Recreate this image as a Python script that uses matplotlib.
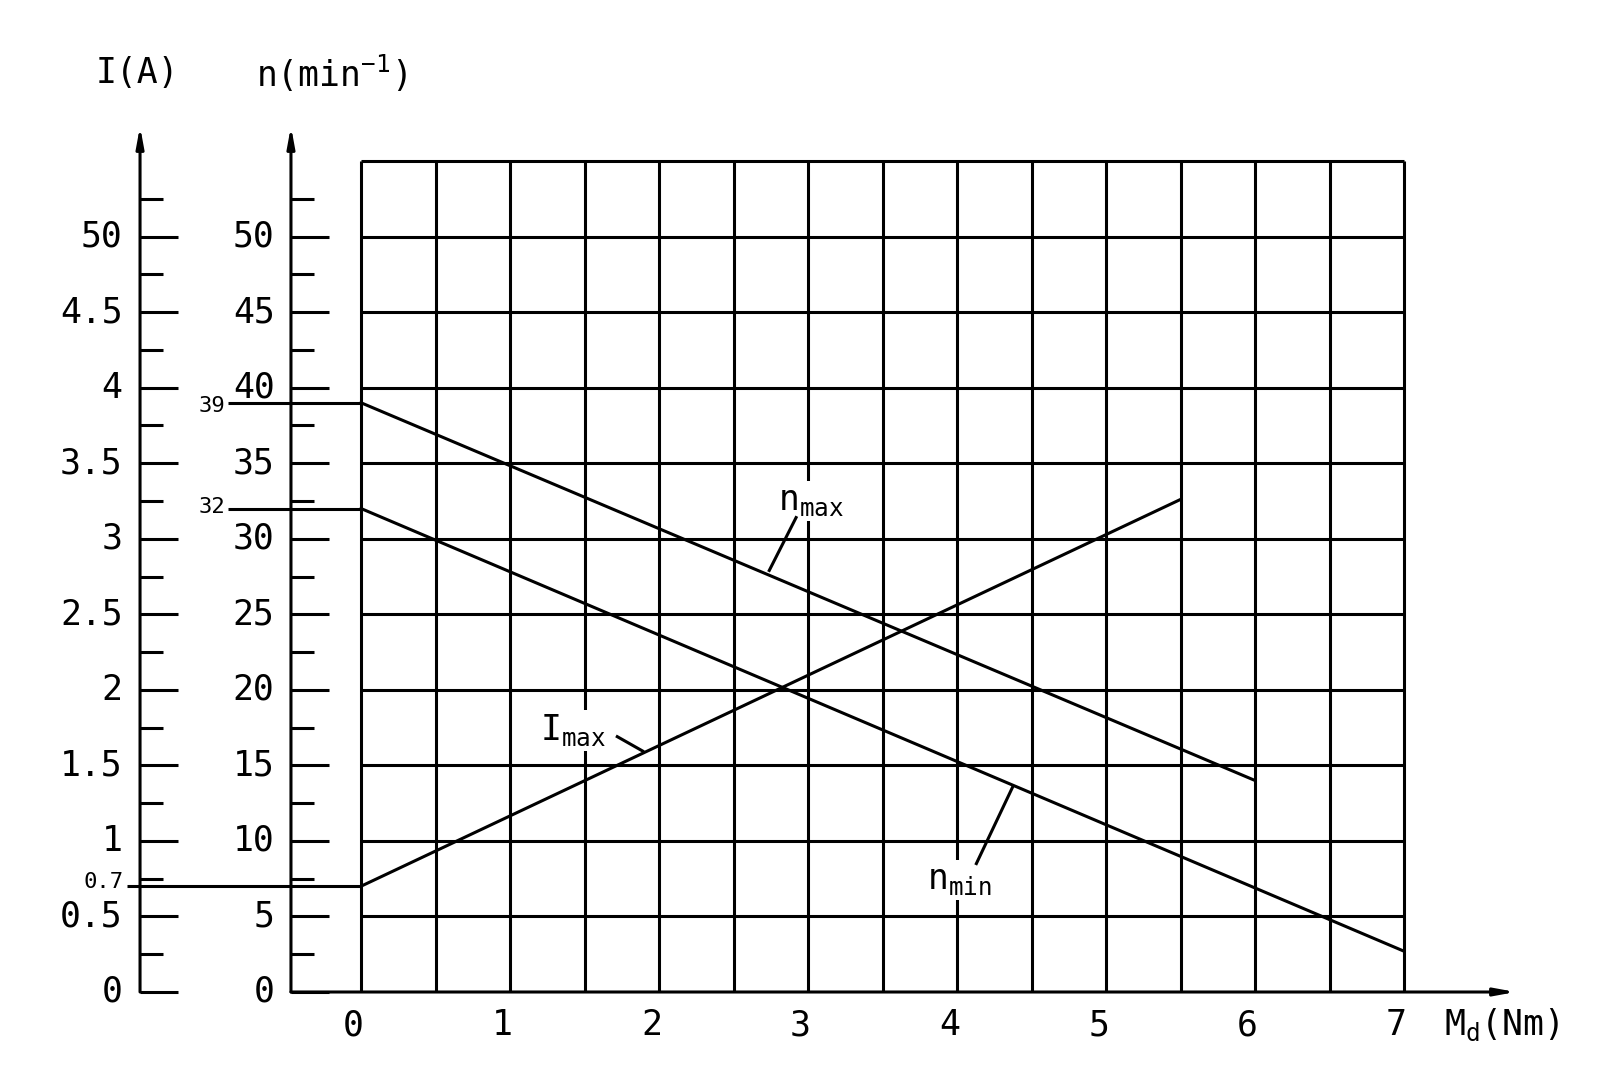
import numpy as np
import matplotlib.pyplot as plt

plt.rcParams['font.family'] = ['DejaVu Sans Mono']
plt.rcParams['mathtext.default'] = 'regular'

# torque axis (Nm) and speed / current scales
x_ticks = [0, 1, 2, 3, 4, 5, 6, 7]
grid_x = np.arange(0, 7.01, 0.5)
grid_y = np.arange(0, 55.1, 5)
n_ticks = [0, 5, 10, 15, 20, 25, 30, 35, 40, 45, 50]
n_labels = ["0", "5", "10", "15", "20", "25", "30", "35", "40", "45", "50"]
i_labels = ["0", "0.5", "1", "1.5", "2", "2.5", "3", "3.5", "4", "4.5", "50"]
minor_ticks = np.arange(2.5, 53, 5)

# curves
md_nmax = [0, 6]
n_max = [39, 14]
md_nmin = [0, 7]
n_min = [32, 2.7]
md_imax = [0, 5.5]
i_max = [0.7, 3.26]   # A, 0.5 A per 5 min^-1 division

W, H = 1607, 1070
fig = plt.figure(figsize=(W / 100, H / 100), dpi=100)
x0, x7 = 361, 1404
y0, y55 = 992, 161
ax = fig.add_axes([x0 / W, 1 - y0 / H, (x7 - x0) / W, (y0 - y55) / H])
ax.set_xlim(0, 7)
ax.set_ylim(0, 55)
ax.axis("off")

lw = 2.2
k = dict(color="black", lw=lw, clip_on=False)
fs = 25
arrow = dict(arrowstyle="-|>,head_length=1.2,head_width=0.22",
             color="black", lw=lw, shrinkA=0, shrinkB=0)

# grid
ax.vlines(grid_x, 0, 55, **k)
ax.hlines(grid_y[1:], 0, 7, **k)

# x axis with arrow
ax.annotate("", xy=(7.75, 0), xytext=(-0.47, 0), arrowprops=arrow,
            annotation_clip=False)
for v in x_ticks:
    ax.text(v - 0.05, -2.2, str(v), ha="center", va="center", fontsize=fs)
ax.text(7.27, -2.2, r"M$_{d}$(Nm)", ha="left", va="center", fontsize=fs)

# two vertical scales
for xa, labels, lab_x in [(-1.483, i_labels, -1.60), (-0.47, n_labels, -0.58)]:
    ax.annotate("", xy=(xa, 57.3), xytext=(xa, 0), arrowprops=arrow,
                annotation_clip=False)
    ax.hlines(n_ticks, xa, xa + 0.255, **k)
    ax.hlines(minor_ticks, xa, xa + 0.155, **k)
    for v, s in zip(n_ticks, labels):
        ax.text(lab_x, v, s, ha="right", va="center", fontsize=fs)

ax.text(-1.50, 60.8, "I(A)", ha="center", va="center", fontsize=fs)
ax.text(-0.2, 60.8, r"n(min$^{-1}$)", ha="center", va="center", fontsize=fs)

# reference lines for start values
ax.hlines([n_max[0], n_min[0]], -0.89, 0, **k)
ax.hlines(i_max[0] * 10, -1.57, 0, **k)
ax.text(-0.91, n_max[0] - 0.2, "39", ha="right", va="center", fontsize=16)
ax.text(-0.91, n_min[0] + 0.1, "32", ha="right", va="center", fontsize=16)
ax.text(-1.59, i_max[0] * 10 + 0.3, "0.7", ha="right", va="center", fontsize=16)

# curves
ax.plot(md_nmax, n_max, **k)
ax.plot(md_nmin, n_min, **k)
ax.plot(md_imax, np.array(i_max) * 10, **k)

# curve labels with leaders
box = dict(facecolor="white", edgecolor="none", pad=2)
ax.text(2.80, 32.5, r"n$_{max}$", ha="left", va="center", fontsize=fs, bbox=box)
ax.plot([2.92, 2.74], [31.4, 27.9], zorder=5, **k)
ax.text(3.80, 7.4, r"n$_{min}$", ha="left", va="center", fontsize=fs, bbox=box)
ax.plot([4.13, 4.375], [8.5, 13.6], zorder=5, **k)
ax.text(1.20, 17.3, r"I$_{max}$", ha="left", va="center", fontsize=fs, bbox=box)
ax.plot([1.72, 1.89], [16.9, 15.95], zorder=5, **k)

fig.savefig("out.png", dpi=100, facecolor="white")
